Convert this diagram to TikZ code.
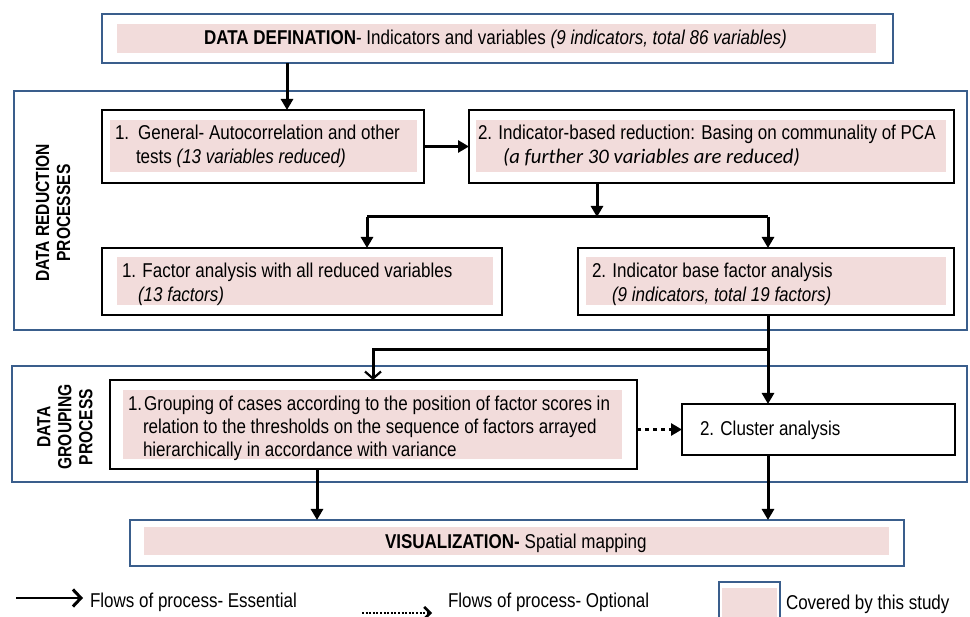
\documentclass[tikz,border=0pt]{standalone}
\usepackage{fontspec}
\setmainfont{Liberation Sans}[FakeStretch=0.85]
\newfontfamily\vfont{Liberation Sans}[FakeStretch=0.82]
\newfontfamily\calib{Carlito}
\usetikzlibrary{fit,arrows.meta}
\definecolor{bluebd}{HTML}{3A5E8C}
\definecolor{pinkc}{HTML}{F2DCDB}
\tikzset{
  every node/.style={font=\fontsize{20}{24}\selectfont, inner sep=0pt, outer sep=0pt},
  blk/.style={draw=black, line width=2.4pt, fit={#1}},
  grp/.style={draw=bluebd, line width=2pt, fit={#1}},
  pnk/.style={fill=pinkc, fit={#1}},
  txt/.style={anchor=base west},
  arr/.style={line width=3pt, -{Triangle[length=11pt,width=12pt]}},
  barb/.style={line width=3pt, -{Straight Barb[length=7pt,width=16pt,line width=2.2pt]}},
  dotarr/.style={line width=3pt, dash pattern=on 4pt off 4pt, -{Triangle[length=11pt,width=12pt]}},
  vlab/.style={rotate=90, align=center, font=\vfont\fontsize{19}{21}\selectfont\bfseries},
}
\begin{document}
\begin{tikzpicture}[x=1pt,y=-1pt]
\useasboundingbox (0,0) rectangle (970,617);
% group frames
\node[grp={(102,14) (893,63)}] (top) {};
\node[pnk={(117,24) (876,53)}] (toppk) {};
\node[grp={(14,91) (967,330)}] (red) {};
\node[grp={(12,366) (967,482)}] (grpg) {};
\node[grp={(130,520) (904,566)}] (viz) {};
\node[pnk={(144,527) (889,555)}] (vizpk) {};
% process boxes
\node[pnk={(110,120) (417,172)}] (p1) {};
\node[blk={(102,110) (424,183)}] (b1) {};
\node[pnk={(476,120) (946,172)}] (p2) {};
\node[blk={(469,110) (954,183)}] (b2) {};
\node[pnk={(117,257) (493,305)}] (p3) {};
\node[blk={(102,248) (502,315)}] (b3) {};
\node[pnk={(586,257) (946,305)}] (p4) {};
\node[blk={(578,248) (954,315)}] (b4) {};
\node[pnk={(123,390) (622,459)}] (p5) {};
\node[blk={(110,380) (637,469)}] (b5) {};
\node[blk={(682,404) (955,455)}] (b6) {};
% texts
\node[txt] (ttop) at (204,45) {\textbf{DATA DEFINATION}- Indicators and variables \textit{(9 indicators, total 86 variables)}};
\node[txt] (t1a) at (115,140) {1.\hspace{9pt}General- Autocorrelation and other};
\node[txt] (t1b) at (136,164) {tests \textit{(13 variables reduced)}};
\node[txt] (t2a) at (478,140) {2. Indicator-based reduction: Basing on communality of PCA};
\node[txt] (t2b) at (503,164) {\calib\itshape\fontsize{20.7}{24}\selectfont (a further 30 variables are reduced)};
\node[txt] (t3a) at (122,278) {1. Factor analysis with all reduced variables};
\node[txt] (t3b) at (138,302) {\textit{(13 factors)}};
\node[txt] (t4a) at (592,278) {2. Indicator base factor analysis};
\node[txt] (t4b) at (612,302) {\textit{(9 indicators, total 19 factors)}};
\node[txt] (t5a) at (128,411) {1.\hspace{2pt}Grouping of cases according to the position of factor scores in};
\node[txt] (t5b) at (143,434) {relation to the thresholds on the sequence of factors arrayed};
\node[txt] (t5c) at (143,457) {hierarchically in accordance with variance};
\node[txt] (t6) at (700,436) {2. Cluster analysis};
\node[txt] (tviz) at (385,548) {\textbf{VISUALIZATION-}\hspace{5pt}Spatial mapping};
\node[vlab] (lred) at (53,213) {DATA REDUCTION\\PROCESSES};
\node[vlab] (lgrp) at (65,427) {DATA\\GROUPING\\PROCESS};
% connectors
\coordinate (xa) at (287,0);
\coordinate (j1) at (597,217);
\coordinate (xl) at (367,0);
\coordinate (xr) at (768,0);
\coordinate (j2) at (768,350);
\coordinate (x5) at (373,0);
\coordinate (xv1) at (317,0);
\draw[arr] (top.south -| xa) -- (b1.north -| xa);
\draw[arr] (b1.east) -- (b2.west);
\draw[arr] (b2.south -| j1) -- (j1);
\draw[line width=3pt] (xl |- j1) -- (xr |- j1);
\draw[arr] (xl |- j1) -- (b3.north -| xl);
\draw[arr] (xr |- j1) -- (b4.north -| xr);
\draw[arr] (b4.south -| xr) -- (b6.north -| xr);
\draw[barb] (j2) -| (b5.north -| x5);
\draw[dotarr] (b5.east |- b6.west) -- (b6.west);
\draw[arr] (b5.south -| xv1) -- (viz.north -| xv1);
\draw[arr] (b6.south -| xr) -- (viz.north -| xr);
% legend
\coordinate (le1) at (16,598);
\coordinate (le2) at (83,598);
\draw[line width=2.6pt, -{Straight Barb[length=8pt,width=17pt,line width=3pt]}] (le1) -- (le2);
\node[txt] (lt1) at (90,607) {Flows of process- Essential};
\coordinate (ld1) at (362,613);
\coordinate (ld2) at (432,613);
\draw[line width=2.6pt, dash pattern=on 2pt off 1.6pt, -{Straight Barb[length=6pt,width=12pt,line width=2.6pt]}] (ld1) -- (ld2);
\node[txt] (lt2) at (448,607) {Flows of process- Optional};
\node[grp={(719,582) (780,625)}] (lbox) {};
\node[pnk={(722,588) (777,622)}] (lpk) {};
\node[txt] (lt3) at (786,609) {Covered by this study};
\end{tikzpicture}
\end{document}
